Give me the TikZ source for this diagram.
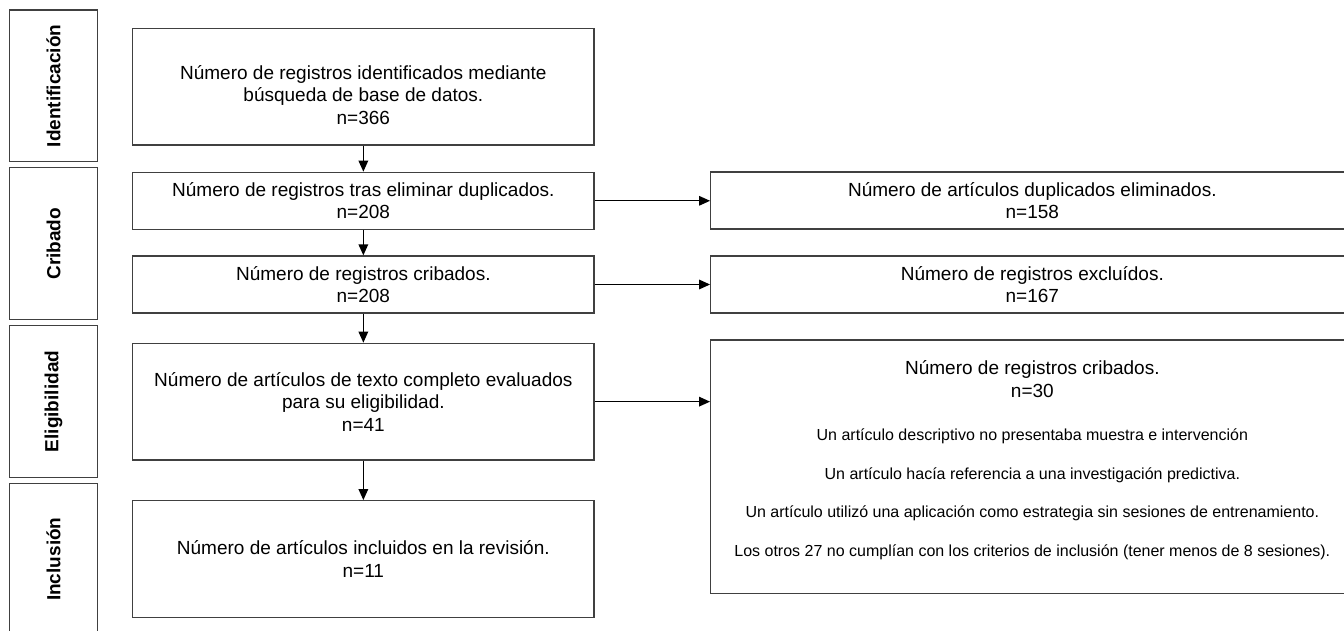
\documentclass[tikz,border=0pt]{standalone}
\usepackage{fontspec}
\setmainfont{Liberation Sans}
\usetikzlibrary{arrows.meta}

\begin{document}
\begin{tikzpicture}[x=1pt, y=1pt,
    fase/.style={draw=black!75, line width=1.2pt, rotate=90, minimum width=151.8pt,
        minimum height=88pt, inner sep=0pt, font=\fontsize{19}{22}\selectfont\bfseries},
    caja/.style={draw=black!75, line width=1.2pt, minimum width=461.3pt, inner sep=0pt,
        align=center, font=\fontsize{19}{22.5}\selectfont},
    lado/.style={caja, minimum width=643.3pt},
    texto/.style={align=center, inner sep=0pt, font=\fontsize{19}{22.5}\selectfont},
    motivo/.style={inner sep=0pt, font=\fontsize{16}{19}\selectfont},
    flecha/.style={-{Triangle[length=11pt,width=9.5pt]}, line width=1.4pt}]

    % Page frame (the reference is cut at the right and bottom)
    \useasboundingbox (0,0) rectangle (1344,-631);
    \clip (0,0) rectangle (1344,-631);

    % Phases
    \node[fase] (ident) at (53.6,-85.9) {Identificación};
    \node[fase] (criba) at (53.6,-243.7) {Cribado};
    \node[fase] (elig) at (53.6,-401.5) {Eligibilidad};
    \node[fase] (incl) at (53.6,-559.2) {Inclusión};

    % Main column
    \node[caja, minimum height=116.7pt] (busq) at (363.35,-86.65) {};
    \node[texto] (busqtxt) at (363.35,-95) {Número de registros identificados mediante\\
        búsqueda de base de datos.\\n=366};
    \node[caja, minimum height=57pt] (dupl) at (363.35,-200.8)
        {Número de registros tras eliminar duplicados.\\n=208};
    \node[caja, minimum height=57pt] (cribados) at (363.35,-284.5)
        {Número de registros cribados.\\n=208};
    \node[caja, minimum height=116.7pt] (eval) at (363.35,-401.65)
        {Número de artículos de texto completo evaluados\\para su eligibilidad.\\n=41};
    \node[caja, minimum height=116.6pt] (revision) at (363.35,-559)
        {Número de artículos incluidos en la revisión.\\n=11};

    % Right column
    \node[lado, minimum height=57pt] (elim) at (1032.35,-200.6)
        {Número de artículos duplicados eliminados.\\n=158};
    \node[lado, minimum height=57pt] (excl) at (1032.35,-284.5)
        {Número de registros excluídos.\\n=167};
    \node[lado, minimum height=253.3pt] (noelig) at (1032.35,-466.65) {};
    \node[texto] (noeligtxt) at (1032.35,-379) {Número de registros cribados.\\n=30};
    \foreach \txt [count=\i] in {
        Un artículo descriptivo no presentaba muestra e intervención,
        Un artículo hacía referencia a una investigación predictiva.,
        Un artículo utilizó una aplicación como estrategia sin sesiones de entrenamiento.,
        Los otros 27 no cumplían con los criterios de inclusión (tener menos de 8 sesiones).}
        \node[motivo] (motivo\i) at (1032.35,{-436.5-38.6*(\i-1)}) {\txt};

    % Arrows
    \draw[flecha] (busq) -- (dupl);
    \draw[flecha] (dupl) -- (cribados);
    \draw[flecha] (cribados) -- (eval);
    \draw[flecha] (eval) -- (revision);
    \draw[flecha] (dupl.east) -- (dupl.east -| elim.west);
    \draw[flecha] (cribados.east) -- (cribados.east -| excl.west);
    \draw[flecha] (eval.east) -- (eval.east -| noelig.west);

\end{tikzpicture}
\end{document}
